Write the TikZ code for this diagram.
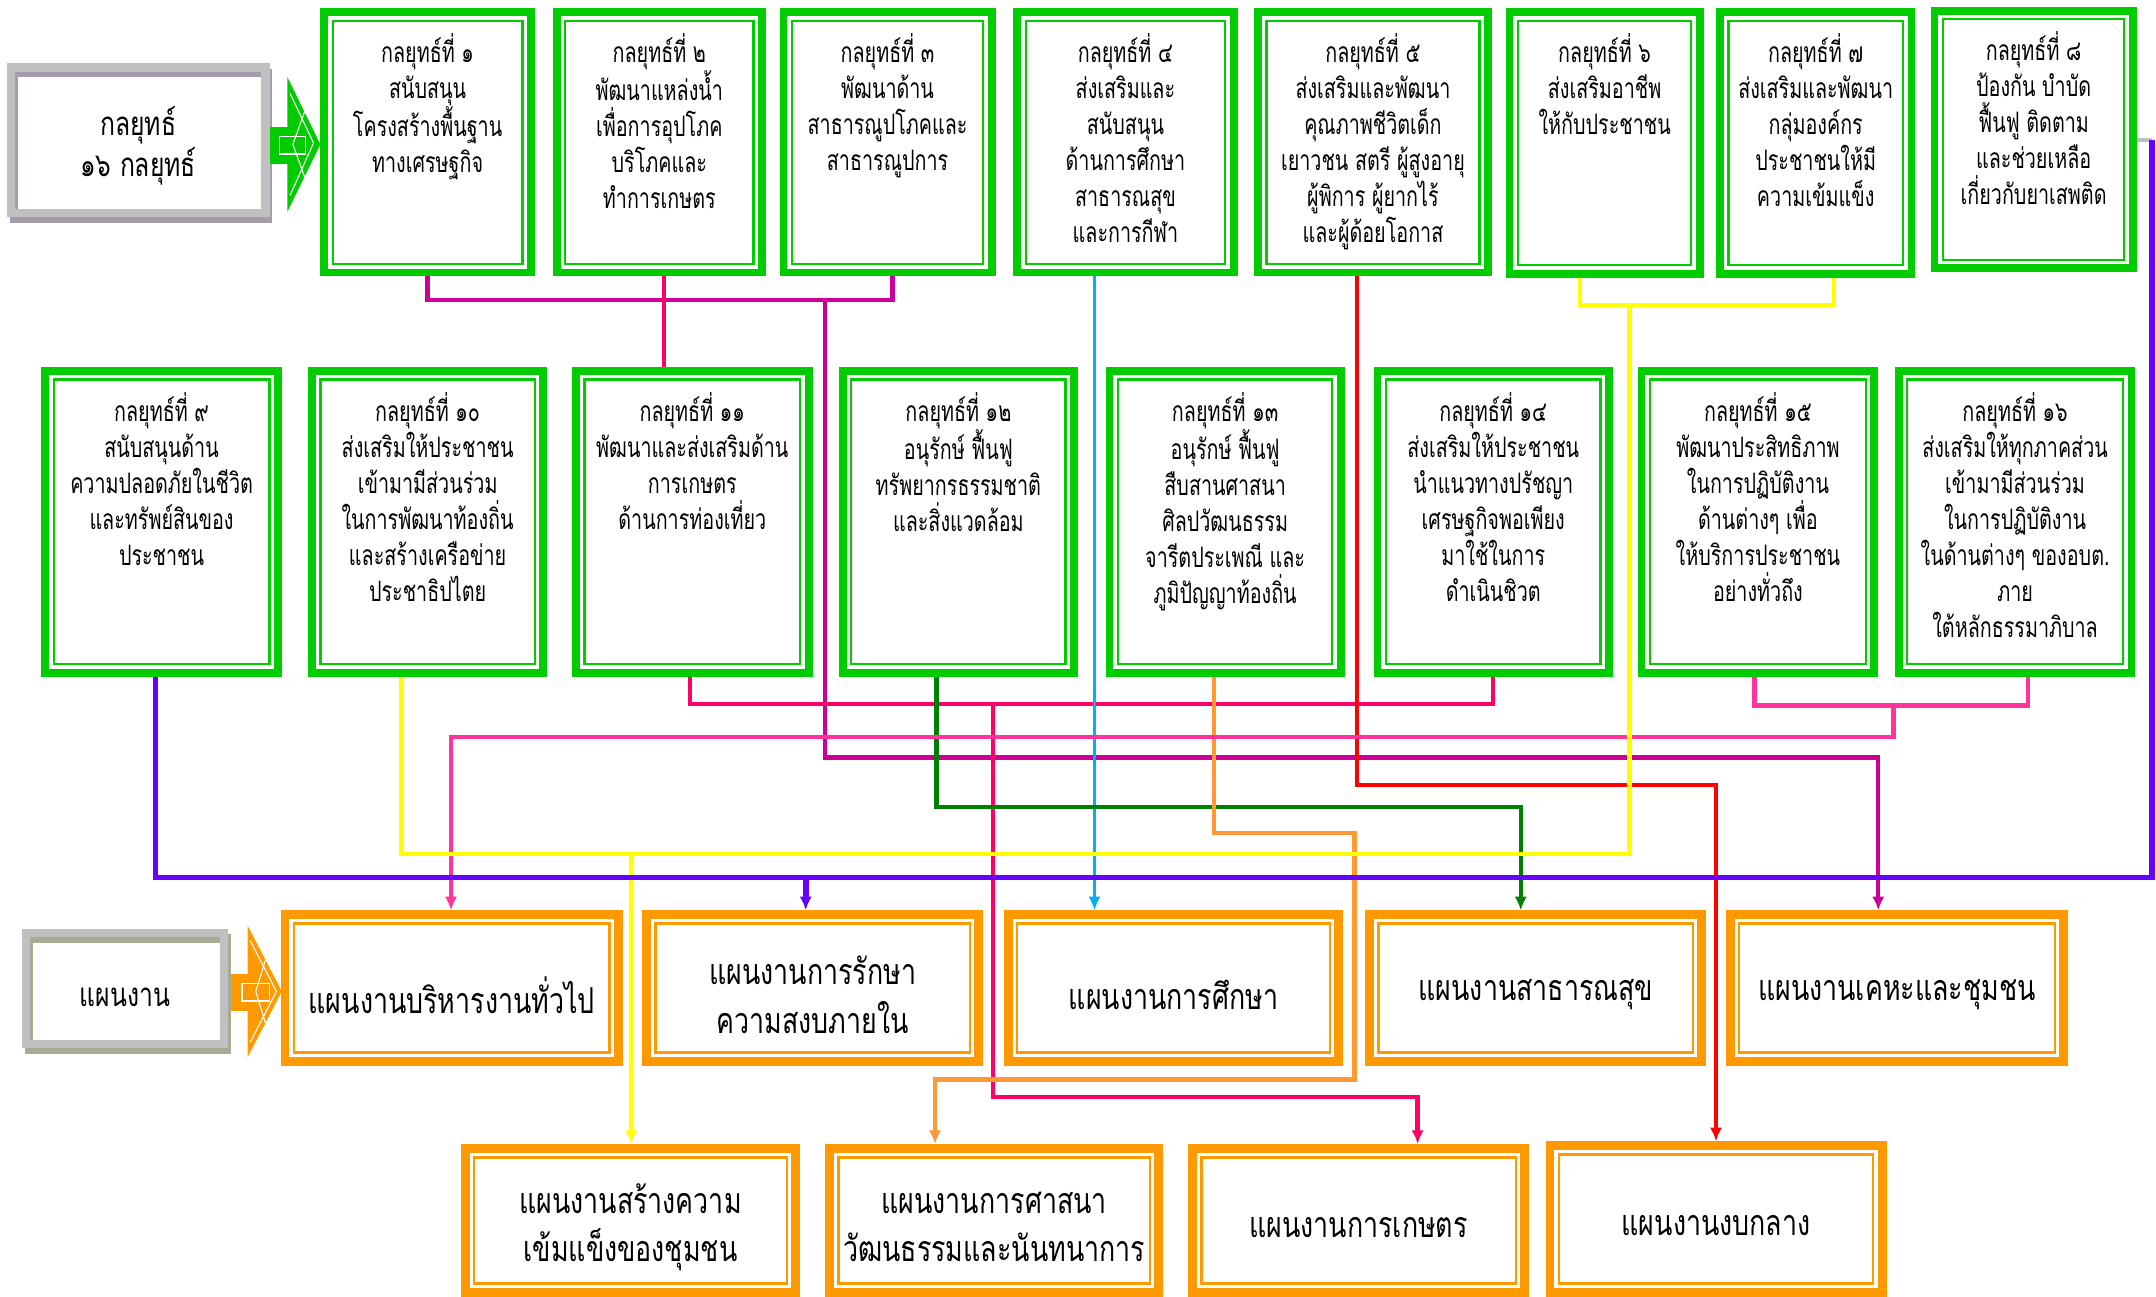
\documentclass[tikz,border=0pt]{standalone}
\usepackage{fontspec}
\usetikzlibrary{arrows.meta}
\newfontfamily\thaiS[Script=Thai,FakeStretch=0.7]{Loma}
\newfontfamily\thaiB[Script=Thai,FakeStretch=0.75]{Loma}
\newcommand\smallthai{\thaiS\fontsize{20.5}{26.2}\selectfont}
\newcommand\bigthai{\thaiB\fontsize{26}{35}\selectfont}
\definecolor{gr}{HTML}{00CC00}
\definecolor{org}{HTML}{FF9900}
\definecolor{lg}{HTML}{C0C0C0}
\definecolor{shA}{HTML}{A39DAB}
\definecolor{shB}{HTML}{A6AB94}
\definecolor{cmag}{HTML}{CC0099}
\definecolor{ccrim}{HTML}{FF0066}
\definecolor{ccyan}{HTML}{00B0F0}
\definecolor{cred}{HTML}{FF0000}
\definecolor{cyel}{HTML}{FFFF00}
\definecolor{cvio}{HTML}{6600FF}
\definecolor{cdg}{HTML}{008000}
\definecolor{corg}{HTML}{FF9933}
\definecolor{cpink}{HTML}{FF3399}
\tikzset{
  gbox/.style={draw=gr, line width=5.7pt, fill=white, inner sep=0pt,
    path picture={\draw[gr, line width=1.6pt]
      ([shift={(6.2pt,-6.2pt)}]path picture bounding box.north west) rectangle
      ([shift={(-6.2pt,6.2pt)}]path picture bounding box.south east);}},
  obox/.style={draw=org, line width=6.5pt, fill=white, inner sep=0pt,
    path picture={\draw[org, line width=1.8pt]
      ([shift={(6.4pt,-6.4pt)}]path picture bounding box.north west) rectangle
      ([shift={(-6.4pt,6.4pt)}]path picture bounding box.south east);}},
  lbox/.style={preaction={fill=white},
    preaction={draw=#1, line width=6pt, transform canvas={shift={(2pt,-4pt)}}},
    draw=lg, line width=6pt, inner sep=0pt},
  stxt/.style={font=\smallthai, align=center, inner sep=0pt, anchor=north},
  btxt/.style={font=\bigthai, align=center, inner sep=0pt},
  conn/.style={line width=3.2pt},
  arr/.style={-{Latex[length=10pt,width=9pt]}},
}
\begin{document}
\begin{tikzpicture}[x=1pt,y=-1pt]
\useasboundingbox (0,0) rectangle (1568,943);
\fill[white] (0,0) rectangle (1568,943);

% label boxes
\node[lbox=shA, minimum width=185pt, minimum height=106pt] (L1) at (100.5,102) {};
\node[btxt, font=\thaiB\fontsize{24}{30}\selectfont] (tL1) at ([yshift=-4pt]L1.center) {กลยุทธ์\\๑๖ กลยุทธ์};
\node[lbox=shB, minimum width=144pt, minimum height=81pt] (L2) at (91,719) {};
\node[btxt, font=\thaiB\fontsize{24}{30}\selectfont] (tL2) at ([yshift=-6pt]L2.center) {แผนงาน};

% block arrows
\fill[gr] (196,92) rectangle (215,119);
\fill[gr] (209,56) -- (233,105) -- (209,154) -- cycle;
\draw[white, line width=0.9pt] (203,99) rectangle (222,112);
\draw[white, line width=0.8pt] (211,68) -- (228,104) -- (211,142);
\draw[white, line width=0.8pt] (222,80) -- (213,105) -- (222,130);
\fill[org] (168,708) rectangle (190,735);
\fill[org] (180,673) -- (205,721) -- (180,769) -- cycle;
\draw[white, line width=0.9pt] (176,715) rectangle (196,728);
\draw[white, line width=0.8pt] (182,684) -- (201,721) -- (182,758);
\draw[white, line width=0.8pt] (194,695) -- (186,721) -- (194,747);

% top strategies
\node[gbox, minimum width=150.3pt, minimum height=189.3pt] (s1) at (311,103.5) {};
\node[gbox, minimum width=149.3pt, minimum height=189.3pt] (s2) at (479.5,103.5) {};
\node[gbox, minimum width=151.3pt, minimum height=189.3pt] (s3) at (645.5,103.5) {};
\node[gbox, minimum width=157.3pt, minimum height=189.3pt] (s4) at (818.5,103.5) {};
\node[gbox, minimum width=167.3pt, minimum height=189.3pt] (s5) at (998.5,103.5) {};
\node[gbox, minimum width=138.3pt, minimum height=190.3pt] (s6) at (1167,104) {};
\node[gbox, minimum width=139.3pt, minimum height=190.3pt] (s7) at (1320.5,104) {};
\node[gbox, minimum width=144.3pt, minimum height=187.3pt] (s8) at (1479,101.5) {};

\node[stxt] (t1) at ([yshift=-18pt]s1.north) {กลยุทธ์ที่ ๑\\สนับสนุน\\โครงสร้างพื้นฐาน\\ทางเศรษฐกิจ};
\node[stxt] (t2) at ([yshift=-18pt]s2.north) {กลยุทธ์ที่ ๒\\พัฒนาแหล่งน้ำ\\เพื่อการอุปโภค\\บริโภคและ\\ทำการเกษตร};
\node[stxt] (t3) at ([yshift=-18pt]s3.north) {กลยุทธ์ที่ ๓\\พัฒนาด้าน\\สาธารณูปโภคและ\\สาธารณูปการ};
\node[stxt] (t4) at ([yshift=-18pt]s4.north) {กลยุทธ์ที่ ๔\\ส่งเสริมและ\\สนับสนุน\\ด้านการศึกษา\\สาธารณสุข\\และการกีฬา};
\node[stxt] (t5) at ([yshift=-18pt]s5.north) {กลยุทธ์ที่ ๕\\ส่งเสริมและพัฒนา\\คุณภาพชีวิตเด็ก\\เยาวชน สตรี ผู้สูงอายุ\\ผู้พิการ ผู้ยากไร้\\และผู้ด้อยโอกาส};
\node[stxt] (t6) at ([yshift=-18pt]s6.north) {กลยุทธ์ที่ ๖\\ส่งเสริมอาชีพ\\ให้กับประชาชน};
\node[stxt] (t7) at ([yshift=-18pt]s7.north) {กลยุทธ์ที่ ๗\\ส่งเสริมและพัฒนา\\กลุ่มองค์กร\\ประชาชนให้มี\\ความเข้มแข็ง};
\node[stxt] (t8) at ([yshift=-18pt]s8.north) {กลยุทธ์ที่ ๘\\ป้องกัน บำบัด\\ฟื้นฟู ติดตาม\\และช่วยเหลือ\\เกี่ยวกับยาเสพติด};

% middle strategies
\node[gbox, minimum width=169.3pt, minimum height=219.3pt] (s9) at (117.5,379.5) {};
\node[gbox, minimum width=168.3pt, minimum height=219.3pt] (s10) at (311,379.5) {};
\node[gbox, minimum width=169.3pt, minimum height=219.3pt] (s11) at (503.5,379.5) {};
\node[gbox, minimum width=168.3pt, minimum height=219.3pt] (s12) at (697,379.5) {};
\node[gbox, minimum width=168.3pt, minimum height=219.3pt] (s13) at (891,379.5) {};
\node[gbox, minimum width=168.3pt, minimum height=219.3pt] (s14) at (1086,379.5) {};
\node[gbox, minimum width=169.3pt, minimum height=219.3pt] (s15) at (1278.5,379.5) {};
\node[gbox, minimum width=169.3pt, minimum height=219.3pt] (s16) at (1465.5,379.5) {};

\node[stxt] (t9) at ([yshift=-18pt]s9.north) {กลยุทธ์ที่ ๙\\สนับสนุนด้าน\\ความปลอดภัยในชีวิต\\และทรัพย์สินของ\\ประชาชน};
\node[stxt] (t10) at ([yshift=-18pt]s10.north) {กลยุทธ์ที่ ๑๐\\ส่งเสริมให้ประชาชน\\เข้ามามีส่วนร่วม\\ในการพัฒนาท้องถิ่น\\และสร้างเครือข่าย\\ประชาธิปไตย};
\node[stxt] (t11) at ([yshift=-18pt]s11.north) {กลยุทธ์ที่ ๑๑\\พัฒนาและส่งเสริมด้าน\\การเกษตร\\ด้านการท่องเที่ยว};
\node[stxt] (t12) at ([yshift=-18pt]s12.north) {กลยุทธ์ที่ ๑๒\\อนุรักษ์ ฟื้นฟู\\ทรัพยากรธรรมชาติ\\และสิ่งแวดล้อม};
\node[stxt] (t13) at ([yshift=-18pt]s13.north) {กลยุทธ์ที่ ๑๓\\อนุรักษ์ ฟื้นฟู\\สืบสานศาสนา\\ศิลปวัฒนธรรม\\จารีตประเพณี และ\\ภูมิปัญญาท้องถิ่น};
\node[stxt] (t14) at ([yshift=-18pt]s14.north) {กลยุทธ์ที่ ๑๔\\ส่งเสริมให้ประชาชน\\นำแนวทางปรัชญา\\เศรษฐกิจพอเพียง\\มาใช้ในการ\\ดำเนินชิวต};
\node[stxt] (t15) at ([yshift=-18pt]s15.north) {กลยุทธ์ที่ ๑๕\\พัฒนาประสิทธิภาพ\\ในการปฏิบัติงาน\\ด้านต่างๆ เพื่อ\\ให้บริการประชาชน\\อย่างทั่วถึง};
\node[stxt] (t16) at ([yshift=-18pt]s16.north) {กลยุทธ์ที่ ๑๖\\ส่งเสริมให้ทุกภาคส่วน\\เข้ามามีส่วนร่วม\\ในการปฏิบัติงาน\\ในด้านต่างๆ ของอบต.\\ภาย\\ใต้หลักธรรมาภิบาล};

% plans
\node[obox, minimum width=242.5pt, minimum height=106.5pt] (p1) at (328.5,718.5) {};
\node[obox, minimum width=241.5pt, minimum height=106.5pt] (p2) at (591,718.5) {};
\node[obox, minimum width=240.5pt, minimum height=106.5pt] (p3) at (853.5,718.5) {};
\node[obox, minimum width=241.5pt, minimum height=106.5pt] (p4) at (1117,718.5) {};
\node[obox, minimum width=242.5pt, minimum height=106.5pt] (p5) at (1379.5,718.5) {};
\node[obox, minimum width=240.5pt, minimum height=104.5pt] (p6) at (458.5,887.5) {};
\node[obox, minimum width=239.5pt, minimum height=104.5pt] (p7) at (723,887.5) {};
\node[obox, minimum width=241.5pt, minimum height=104.5pt] (p8) at (988,887.5) {};
\node[obox, minimum width=241.5pt, minimum height=106.5pt] (p9) at (1248,886.5) {};

\node[btxt] (tp1) at ([yshift=-5pt]p1.center) {แผนงานบริหารงานทั่วไป};
\node[btxt] (tp2) at ([yshift=-5pt]p2.center) {แผนงานการรักษา\\ความสงบภายใน};
\node[btxt] (tp3) at ([yshift=-5pt]p3.center) {แผนงานการศึกษา};
\node[btxt] (tp4) at ([yshift=-5pt]p4.center) {แผนงานสาธารณสุข};
\node[btxt] (tp5) at ([yshift=-5pt]p5.center) {แผนงานเคหะและชุมชน};
\node[btxt] (tp6) at ([yshift=-5pt]p6.center) {แผนงานสร้างความ\\เข้มแข็งของชุมชน};
\node[btxt] (tp7) at ([yshift=-5pt]p7.center) {แผนงานการศาสนา\\วัฒนธรรมและนันทนาการ};
\node[btxt] (tp8) at ([yshift=-5pt]p8.center) {แผนงานการเกษตร};
\node[btxt] (tp9) at ([yshift=-5pt]p9.center) {แผนงานงบกลาง};

% junction coordinates
\coordinate (m1) at (311,218); \coordinate (m2) at (649,218);
\coordinate (m3) at (600,218); \coordinate (m4) at (600,551); \coordinate (m5) at (1366,551);
\coordinate (r0) at (483,0);
\coordinate (r1) at (502,512); \coordinate (r2) at (1086,512);
\coordinate (r3) at (722,512); \coordinate (r4) at (722,798); \coordinate (r5) at (1031,798);
\coordinate (c1) at (796,0);
\coordinate (d1) at (987,571); \coordinate (d2) at (1248,571);
\coordinate (y1) at (1149,222); \coordinate (y2) at (1334,222);
\coordinate (y3) at (1185,222); \coordinate (y4) at (1185,621); \coordinate (y5) at (292,621);
\coordinate (y6) at (459,621);
\coordinate (v1) at (1565,102); \coordinate (v2) at (1565,638); \coordinate (v3) at (113,638);
\coordinate (v4) at (586,638);
\coordinate (g1) at (681,587); \coordinate (g2) at (1106,587);
\coordinate (o1) at (883,606); \coordinate (o2) at (985,606); \coordinate (o3) at (985,785); \coordinate (o4) at (680,785);
\coordinate (k1) at (1276,513); \coordinate (k2) at (1475,513);
\coordinate (k3) at (1377,513); \coordinate (k4) at (1377,536); \coordinate (k5) at (328,536);

% connectors
\draw[conn, cmag] (m1 |- s1.south) -- (m1) -- (m2) -- (m2 |- s3.south);
\draw[conn, cmag, arr] (m3) -- (m4) -- (m5) -- (m5 |- p5.north);
\draw[conn, ccrim] (r0 |- s2.south) -- (r0 |- s11.north);
\draw[conn, ccrim] (r1 |- s11.south) -- (r1) -- (r2) -- (r2 |- s14.south);
\draw[conn, ccrim, arr] (r3) -- (r4) -- (r5) -- (r5 |- p8.north);
\draw[conn, line width=2.8pt, ccyan, arr] (c1 |- s4.south) -- (c1 |- p3.north);
\draw[conn, cred, arr] (d1 |- s5.south) -- (d1) -- (d2) -- (d2 |- p9.north);
\draw[conn, cdg, arr] (g1 |- s12.south) -- (g1) -- (g2) -- (g2 |- p4.north);
\draw[conn, corg, arr] (o1 |- s13.south) -- (o1) -- (o2) -- (o3) -- (o4) -- (o4 |- p7.north);
\draw[conn, cpink] (k1 |- s15.south) -- (k1) -- (k2) -- (k2 |- s16.south);
\draw[conn, cpink, arr] (k3) -- (k4) -- (k5) -- (k5 |- p1.north);
\draw[conn, cyel] (y1 |- s6.south) -- (y1) -- (y2) -- (y2 |- s7.south);
\draw[conn, cyel] (y3) -- (y4) -- (y5) -- (y5 |- s10.south);
\draw[conn, cyel, arr] (y6) -- (y6 |- p6.north);
\draw[conn, lg] (s8.east |- v1) -- (v1);
\draw[conn, line width=4pt, cvio] (v1) -- (v2) -- (v3) -- (v3 |- s9.south);
\draw[conn, line width=4pt, cvio, arr] (v4) -- (v4 |- p2.north);
\end{tikzpicture}
\end{document}
